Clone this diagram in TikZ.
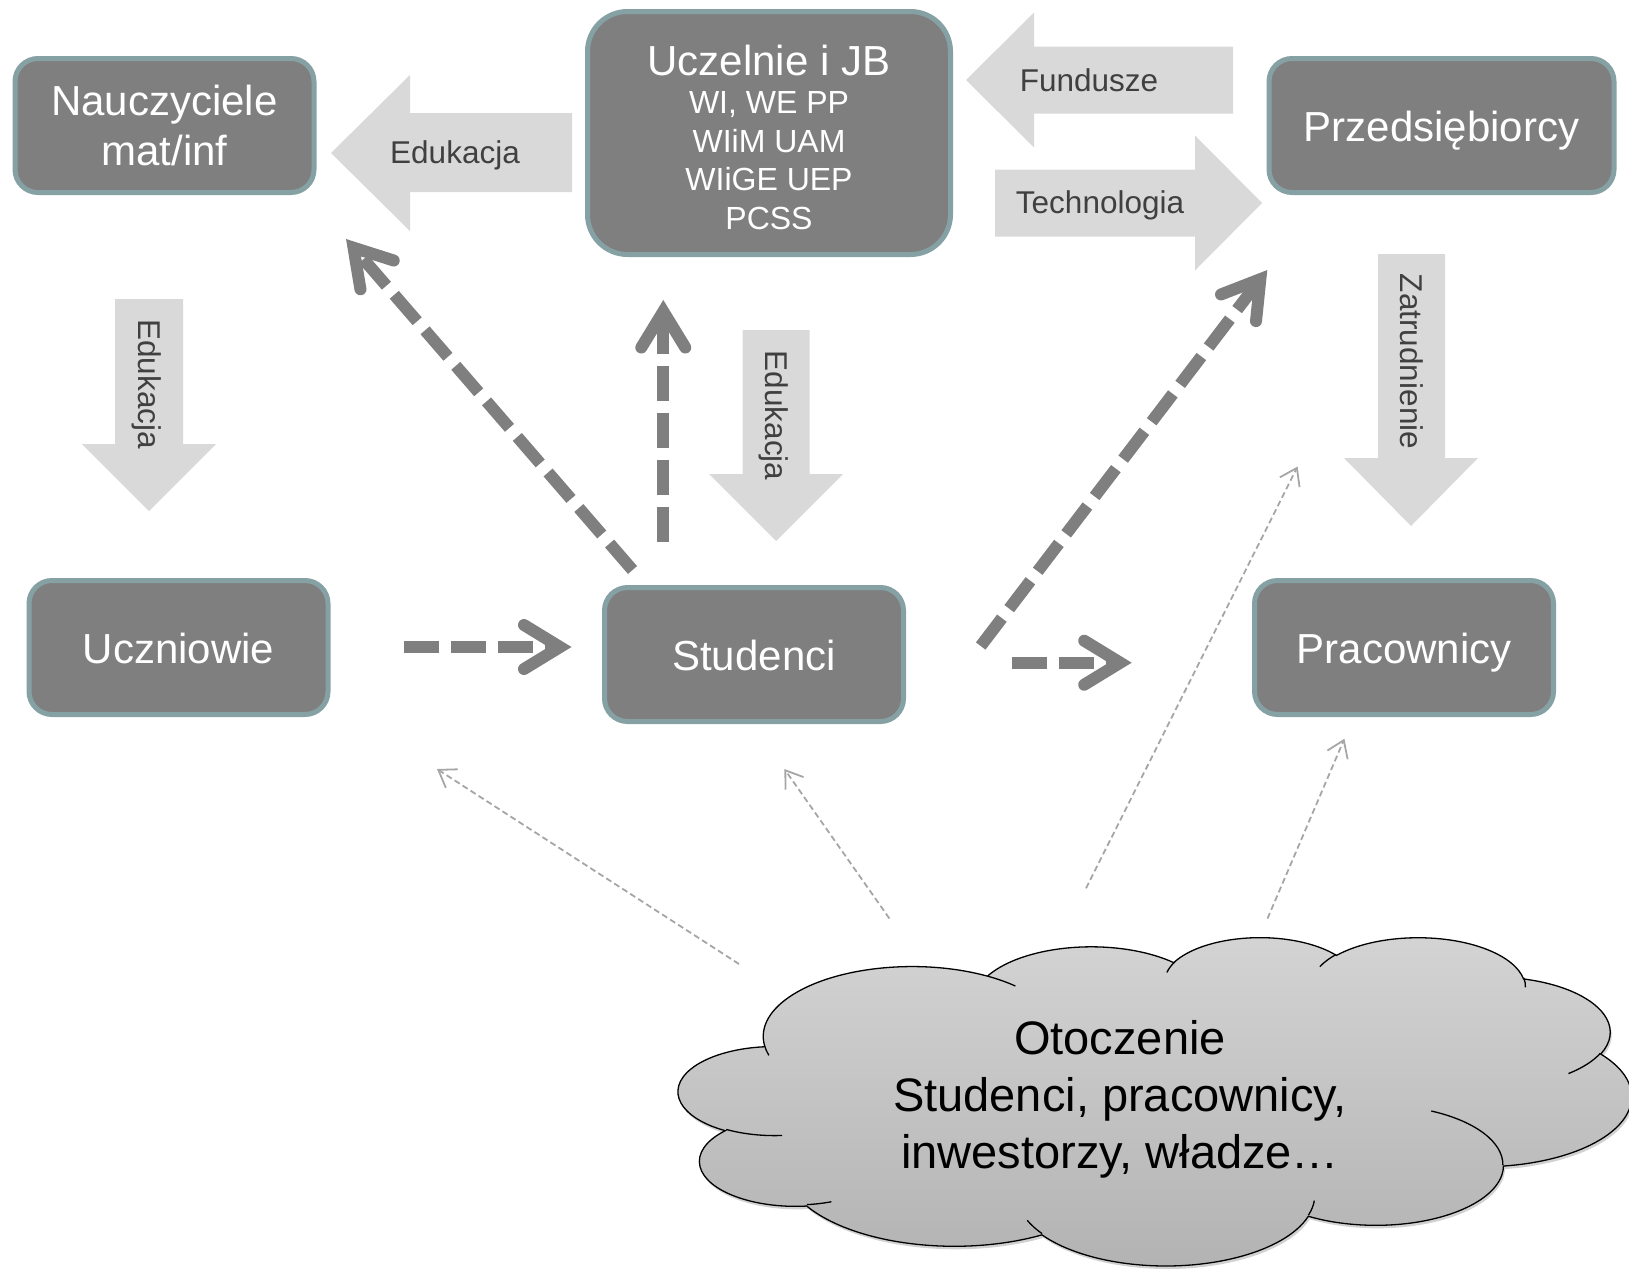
\documentclass[tikz,border=0pt]{standalone}
\usepackage{fontspec}
\setmainfont{Liberation Sans}
\usetikzlibrary{arrows.meta}

\definecolor{boxfill}{RGB}{127,127,127}
\definecolor{boxedge}{RGB}{134,161,164}
\definecolor{flowfill}{RGB}{217,217,217}
\definecolor{flowtext}{RGB}{64,64,64}
\definecolor{linkgray}{RGB}{127,127,127}
\definecolor{hintgray}{RGB}{166,166,166}
\definecolor{cloudtop}{RGB}{212,212,212}
\definecolor{cloudbot}{RGB}{178,178,178}

\tikzset{
  actor/.style={draw=boxedge, fill=boxfill, line width=5pt, rounded corners=23pt,
    text=white, align=center, inner sep=0pt, minimum width=299pt, minimum height=134pt,
    font=\fontsize{42}{50}\selectfont},
  oneline/.style={text height=40pt, text depth=8pt},
  flow/.style={fill=flowfill},
  flowlabel/.style={text=flowtext, inner sep=0pt, text height=27pt, text depth=6pt,
    font=\fontsize{31.5}{38}\selectfont},
  link/.style={draw=linkgray, line width=12pt, dash pattern=on 35pt off 12pt,
    -{Straight Barb[length=36pt, width=44pt, line cap=round, line join=miter]}},
  hint/.style={draw=hintgray, line width=1.8pt, dash pattern=on 6pt off 3.5pt,
    -{Straight Barb[length=16pt, width=22pt]}},
  cloudline/.style={draw=black, line width=1.3pt},
}

\begin{document}
\begin{tikzpicture}[x=1pt, y=-1pt]
  \useasboundingbox (0,0) rectangle (1629,1269);

  % actors
  \node[actor] (nau) at (164.5,125.5) {Nauczyciele\\mat/inf};
  \node[actor, minimum width=363pt, minimum height=243pt, rounded corners=40pt,
        font=\fontsize{32}{38.4}\selectfont] (ucz) at (769,133)
        {\rule{0pt}{39pt}{\fontsize{42}{50}\selectfont Uczelnie i JB}\\WI, WE PP\\WIiM UAM\\WIiGE UEP\\PCSS};
  \node[actor, oneline, minimum width=345pt] (prz) at (1441.5,125.5) {Przedsiębiorcy};
  \node[actor, oneline] (uczn) at (178.5,647.5) {Uczniowie};
  \node[actor, oneline] (stud) at (754,654.5) {Studenci};
  \node[actor, oneline] (prac) at (1404,647.5) {Pracownicy};

  % block arrows
  \fill[flow] (331,153) -- (410,75) -- (410,113) -- (572,113) -- (572,192) -- (410,192) -- (410,231) -- cycle;
  \node[flowlabel] (eduA) at (455,153) {Edukacja};
  \fill[flow] (966,80) -- (1034,12.5) -- (1034,46.5) -- (1233,46.5) -- (1233,113.5) -- (1034,113.5) -- (1034,147.5) -- cycle;
  \node[flowlabel] (fund) at (1089,81) {Fundusze};
  \fill[flow] (1262,203) -- (1195,135.5) -- (1195,169.5) -- (995,169.5) -- (995,236.5) -- (1195,236.5) -- (1195,270.5) -- cycle;
  \node[flowlabel] (tech) at (1100,203) {Technologia};
  \fill[flow] (149,511) -- (82,444) -- (115,444) -- (115,299) -- (183,299) -- (183,444) -- (216,444) -- cycle;
  \node[flowlabel, rotate=-90] (eduB) at (149,384) {Edukacja};
  \fill[flow] (776,541) -- (709,474) -- (742.5,474) -- (742.5,330) -- (809.5,330) -- (809.5,474) -- (843,474) -- cycle;
  \node[flowlabel, rotate=-90] (eduC) at (776,415.5) {Edukacja};
  \fill[flow] (1411,526) -- (1344,458) -- (1378,458) -- (1378,254) -- (1445,254) -- (1445,458) -- (1478,458) -- cycle;
  \node[flowlabel, rotate=-90] (zatr) at (1411,361.5) {Zatrudnienie};

  % moves of people
  \coordinate (s1) at (632.5,570);   \coordinate (t1) at (346,239);
  \coordinate (s2) at (663.3,541.7); \coordinate (t2) at (663.3,300);
  \coordinate (s3) at (404,647);     \coordinate (t3) at (571.5,647);
  \coordinate (s4) at (980.7,646);   \coordinate (t4) at (1267.3,270);
  \coordinate (s5) at (1011.7,662.7);\coordinate (t5) at (1131.7,662.7);
  \draw[link] (s1) -- (t1);
  \draw[link] (s2) -- (t2);
  \draw[link] (s3) -- (t3);
  \draw[link] (s4) -- (t4);
  \draw[link] (s5) -- (t5);

  % influence of the environment
  \coordinate (h1) at (739,964);     \coordinate (k1) at (437,769);
  \coordinate (h2) at (889.4,918.5); \coordinate (k2) at (784.4,769);
  \coordinate (h3) at (1086,888.3);  \coordinate (k3) at (1297.6,466.5);
  \coordinate (h4) at (1267.5,918.5);\coordinate (k4) at (1344.4,738.7);
  \draw[hint] (h1) -- (k1);
  \draw[hint] (h2) -- (k2);
  \draw[hint] (h3) -- (k3);
  \draw[hint] (h4) -- (k4);

  % environment cloud
  \begin{scope}[shift={(678.6,936.6)}, x=22.053pt, y=-7.597pt]
    \draw[cloudline, top color=cloudtop, bottom color=cloudbot,
          preaction={fill=black, fill opacity=0.18, transform canvas={xshift=1.5pt, yshift=-3pt}}]
      (3.900,14.370)
      arc[start angle=-187.746, delta angle=128.108, x radius=6.753, y radius=9.190]
      arc[start angle=-152.033, delta angle=106.551, x radius=5.333, y radius=7.267]
      arc[start angle=-153.489, delta angle=116.164, x radius=4.365, y radius=5.945]
      arc[start angle=-139.706, delta angle=129.495, x radius=4.857, y radius=6.595]
      arc[start angle=-74.769, delta angle=97.977, x radius=5.333, y radius=7.273]
      arc[start angle=-37.526, delta angle=119.386, x radius=6.775, y radius=9.220]
      arc[start angle=0.460, delta angle=121.500, x radius=5.785, y radius=7.867]
      arc[start angle=16.843, delta angle=129.408, x radius=6.752, y radius=9.215]
      arc[start angle=59.029, delta angle=91.139, x radius=7.720, y radius=10.543]
      arc[start angle=83.303, delta angle=139.777, x radius=4.360, y radius=5.918]
      arc[start angle=120.381, delta angle=143.729, x radius=4.345, y radius=5.945]
      -- cycle;
    % inner folds
    \draw[cloudline] (3.900,14.370) arc[start angle=-187.746, delta angle=-8, x radius=6.753, y radius=9.190];
    \draw[cloudline] (4.693,26.177) arc[start angle=85.544, delta angle=34.836, x radius=4.345, y radius=5.945];
    \draw[cloudline] (6.928,34.899) arc[start angle=68.245, delta angle=15.058, x radius=4.360, y radius=5.918];
    \draw[cloudline] (16.478,39.090) arc[start angle=146.251, delta angle=12.23, x radius=6.752, y radius=9.215];
    \draw[cloudline] (28.827,34.751) arc[start angle=4.738, delta angle=12.105, x radius=6.752, y radius=9.215];
    \draw[cloudline] (34.129,22.954) arc[start angle=-63.99, delta angle=64.45, x radius=5.785, y radius=7.867];
    \draw[cloudline] (41.798,15.354) arc[start angle=23.208, delta angle=26.44, x radius=5.333, y radius=7.273];
    \draw[cloudline] (38.324,5.426) arc[start angle=-10.211, delta angle=11.03, x radius=4.857, y radius=6.595];
    \draw[cloudline] (29.078,3.952) arc[start angle=-156.283, delta angle=16.577, x radius=4.857, y radius=6.595];
    \draw[cloudline] (22.141,4.720) arc[start angle=-167.726, delta angle=14.237, x radius=4.365, y radius=5.945];
    \draw[cloudline] (14.005,5.202) arc[start angle=-59.638, delta angle=13.5, x radius=6.753, y radius=9.190];
  \end{scope}
  \node[align=center, inner sep=0pt, font=\fontsize{47}{57}\selectfont] (env) at (1120,1099)
    {Otoczenie\\Studenci, pracownicy,\\inwestorzy, władze…};
\end{tikzpicture}
\end{document}
